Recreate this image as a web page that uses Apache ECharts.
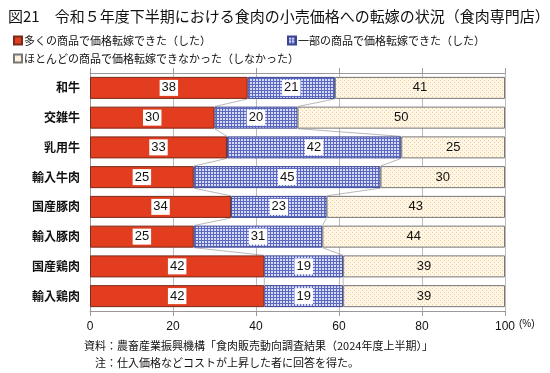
<!DOCTYPE html>
<html><head><meta charset="utf-8">
<script src="https://cdn.jsdelivr.net/npm/echarts@6/dist/echarts.min.js"></script>
<style>html,body{margin:0;padding:0;background:#fff}#c{width:550px;height:373px}</style>
</head><body><div id="c"></div>
<script>
const categories = ['和牛','交雑牛','乳用牛','輸入牛肉','国産豚肉','輸入豚肉','国産鶏肉','輸入鶏肉'];
const seriesNames = ['多くの商品で価格転嫁できた（した）','一部の商品で価格転嫁できた（した）','ほとんどの商品で価格転嫁できなかった（しなかった）'];
const many = [38,30,33,25,34,25,42,42];
const some = [21,20,42,45,23,31,19,19];
const none = [41,50,25,30,43,44,39,39];
const xTicks = [0,20,40,60,80,100];

function makePattern(type){
  const c = document.createElement('canvas');
  const ctx = c.getContext('2d');
  if(type==='grid'){
    c.width=3;c.height=3;
    ctx.fillStyle='#d6daf4';ctx.fillRect(0,0,3,3);
    ctx.fillStyle='#5a68c2';ctx.fillRect(0,0,3,1);ctx.fillRect(0,0,1,3);
  } else {
    c.width=4;c.height=4;
    ctx.fillStyle='#fff6e6';ctx.fillRect(0,0,4,4);
    ctx.fillStyle='#f0cc98';ctx.fillRect(0,0,1,1);ctx.fillRect(2,2,1,1);
  }
  return {image:c, repeat:'repeat'};
}
const gridPat = makePattern('grid');
const dotPat = makePattern('dot');

const labelStyle = {show:true, position:'inside', color:'#111', fontSize:13, fontFamily:'Liberation Sans, Arial', backgroundColor:'#fff', padding:[2,2,1,2]};

const cum1 = many.slice();
const cum2 = many.map((v,i)=>v+some[i]);

const linkSeries = {
  type:'custom', silent:true, z:1,
  data: categories.slice(0,-1).map((c,i)=>[i]),
  renderItem:function(params, api){
    const i = api.value(0);
    const half = api.size([0,1])[1]*0.37;
    const children=[];
    [cum1,cum2].forEach(arr=>{
      const p1 = api.coord([arr[i], i]);
      const p2 = api.coord([arr[i+1], i+1]);
      children.push({type:'line', shape:{x1:p1[0],y1:p1[1]+half,x2:p2[0],y2:p2[1]-half}, style:{stroke:'#999',lineWidth:0.7}});
    });
    return {type:'group', children};
  }
};

const chart = echarts.init(document.getElementById('c'));
chart.setOption({
  animation:false,
  textStyle:{fontFamily:'Noto Sans CJK JP'},
  title:{text:'図21　令和５年度下半期における食肉の小売価格への転嫁の状況（食肉専門店）', left:3, top:4,
    textStyle:{fontSize:15, fontWeight:'normal', color:'#111', fontFamily:'Noto Sans CJK JP'}},
  legend:[
    {data:[seriesNames[0],seriesNames[1]], left:8, top:30, itemWidth:8, itemHeight:8, itemGap:76, icon:'rect',
      textStyle:{fontSize:11, color:'#111', padding:[0,0,0,-3]}},
    {data:[seriesNames[2]], left:8, top:48, itemWidth:8, itemHeight:8, icon:'rect',
      textStyle:{fontSize:11, color:'#111', padding:[0,0,0,-3]}}
  ],
  grid:{left:90, right:45, top:73, bottom:62},
  xAxis:[{type:'value', min:0, max:100, interval:20, position:'bottom',
    axisLine:{show:true, lineStyle:{color:'#999'}}, axisTick:{show:true, length:5, lineStyle:{color:'#999'}},
    splitLine:{show:true, lineStyle:{color:'#bbb'}},
    axisLabel:{fontSize:12, color:'#111', margin:10, fontFamily:'Liberation Sans, Arial',
      formatter:v=> xTicks.includes(v)? String(v):''}},
    {type:'value', min:0, max:100, interval:20, position:'top',
    axisLine:{show:true, lineStyle:{color:'#999'}}, axisTick:{show:true, length:5, lineStyle:{color:'#999'}},
    splitLine:{show:false}, axisLabel:{show:false}}],
  yAxis:{type:'category', data:categories, inverse:true,
    axisLine:{show:true, lineStyle:{color:'#999'}}, axisTick:{show:false},
    axisLabel:{fontSize:12, fontWeight:'bold', color:'#111', margin:10}},
  graphic:[
    {type:'text', left:519, top:319, style:{text:'(%)', fontSize:10, fill:'#111', fontFamily:'Liberation Sans, Arial'}},
    {type:'text', left:84, top:340, style:{text:'資料：農畜産業振興機構「食肉販売動向調査結果（2024年度上半期）」', fontSize:11, fill:'#111', fontFamily:'Noto Sans CJK JP'}},
    {type:'text', left:95, top:357, style:{text:'注：仕入価格などコストが上昇した者に回答を得た。', fontSize:11, fill:'#111', fontFamily:'Noto Sans CJK JP'}}
  ],
  series:[
    {name:seriesNames[0], type:'bar', stack:'a', data:many, barWidth:22, z:2,
      itemStyle:{color:'#e23d1f', borderColor:'#7a2a1a', borderWidth:1}, label:labelStyle},
    {name:seriesNames[1], type:'bar', stack:'a', data:some, barWidth:22, z:2,
      itemStyle:{color:gridPat, borderColor:'#3b4590', borderWidth:1}, label:labelStyle},
    {name:seriesNames[2], type:'bar', stack:'a', data:none, barWidth:22, z:2,
      itemStyle:{color:dotPat, borderColor:'#777', borderWidth:1}, label:Object.assign({},labelStyle,{backgroundColor:'transparent'})},
    linkSeries
  ]
});
</script></body></html>
